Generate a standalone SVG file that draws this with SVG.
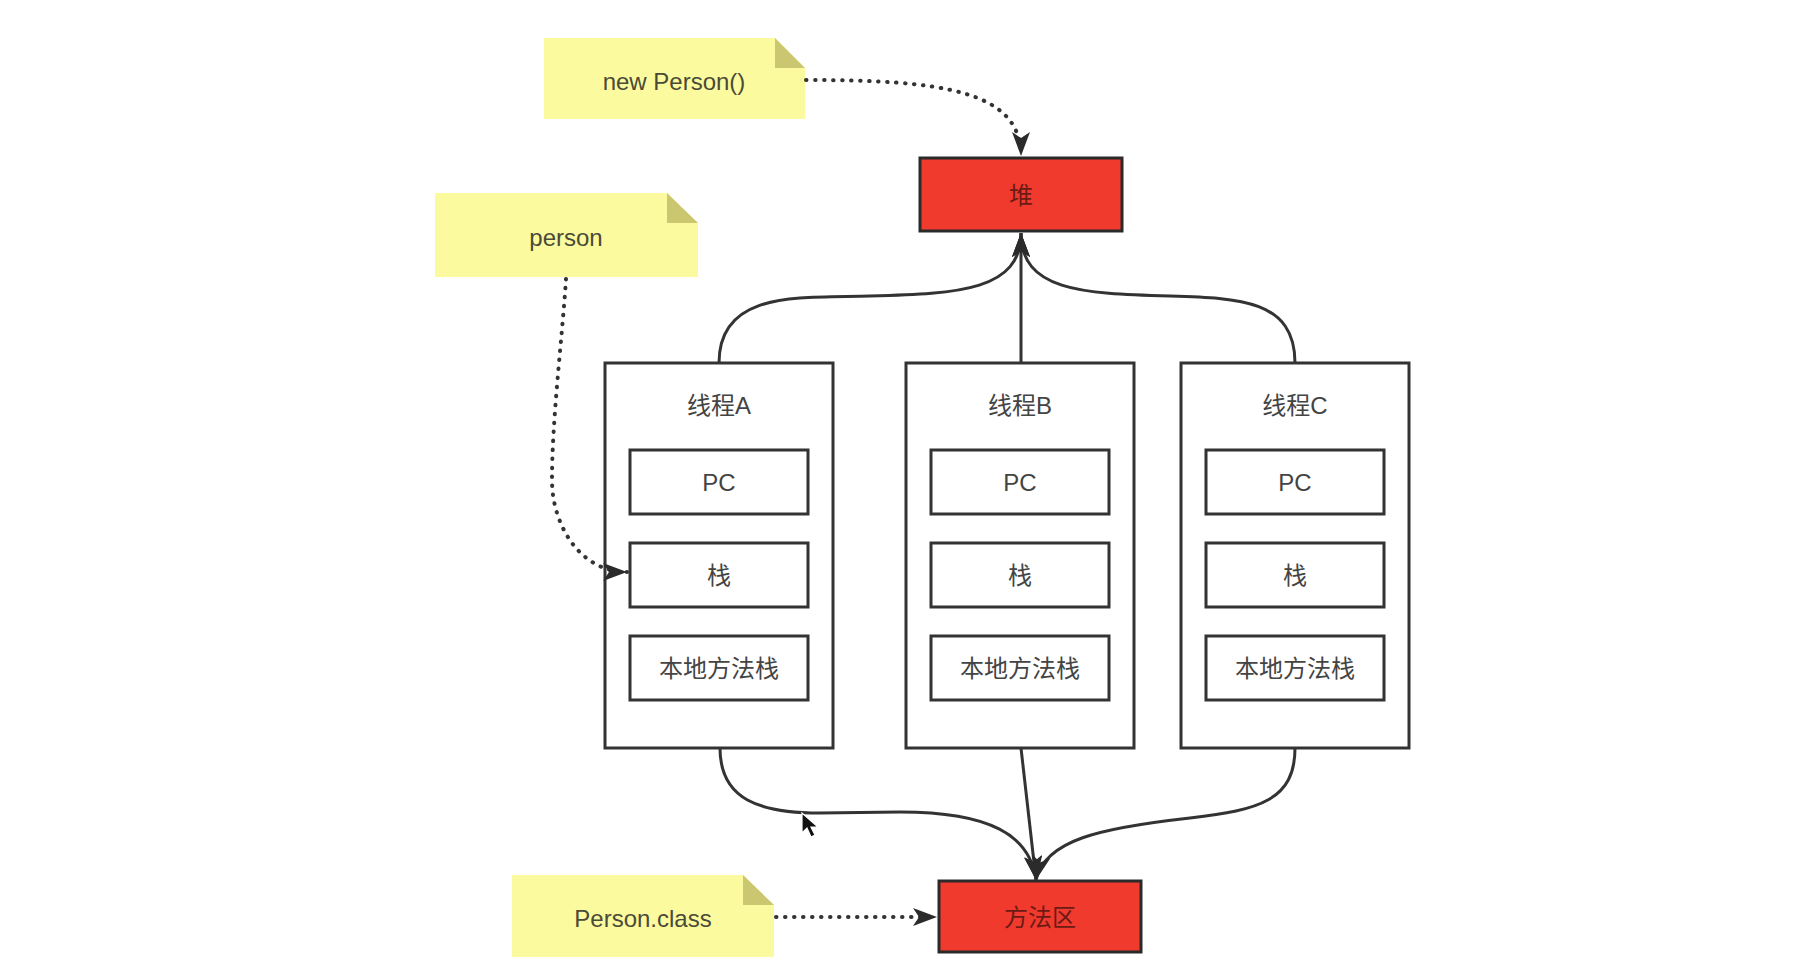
<svg xmlns="http://www.w3.org/2000/svg" width="1814" height="968" viewBox="0 0 1814 968">
  <style>
    .note { fill: #fcfa9e; }
    .fold { fill: #cbc770; }
    .note-text { font-family: "Liberation Sans", "Noto Sans CJK SC", sans-serif; font-size: 24px; fill: #4a4a38; text-anchor: middle; dominant-baseline: central; }
    .box { fill: #ffffff; stroke: #333333; stroke-width: 3; }
    .area { fill: #f03a2d; stroke: #2a2a2a; stroke-width: 3; }
    .label { font-family: "Liberation Sans", "Noto Sans CJK SC", sans-serif; font-size: 24px; fill: #444444; text-anchor: middle; dominant-baseline: central; }
    .area-label { font-family: "Liberation Sans", "Noto Sans CJK SC", sans-serif; font-size: 24px; fill: #6b1a15; text-anchor: middle; dominant-baseline: central; }
    .edge { fill: none; stroke: #333333; stroke-width: 3; }
    .dotted { fill: none; stroke: #333333; stroke-width: 4; stroke-dasharray: 0.5 8.5; stroke-linecap: round; }
  </style>
  <defs>
    <marker id="arrow" markerUnits="userSpaceOnUse" markerWidth="26" markerHeight="20" refX="24" refY="9" orient="auto">
      <path d="M0,0 L24,9 L0,18 L6,9 Z" fill="#2b2b2b"/>
    </marker>
  </defs>

  <rect width="1814" height="968" fill="#ffffff"/>

  <!-- notes -->
  <g id="note-new-person">
    <path class="note" d="M544,38 L775,38 L805,68 L805,119 L544,119 Z"/>
    <path class="fold" d="M775,38 L775,68 L805,68 Z"/>
    <text class="note-text" x="674" y="81">new Person()</text>
  </g>
  <g id="note-person">
    <path class="note" d="M435,193 L667,193 L698,223 L698,277 L435,277 Z"/>
    <path class="fold" d="M667,193 L667,223 L698,223 Z"/>
    <text class="note-text" x="566" y="237">person</text>
  </g>
  <g id="note-person-class">
    <path class="note" d="M512,875 L743,875 L774,905 L774,957 L512,957 Z"/>
    <path class="fold" d="M743,875 L743,905 L774,905 Z"/>
    <text class="note-text" x="643" y="918">Person.class</text>
  </g>

  <!-- shared areas -->
  <g id="heap">
    <rect class="area" x="920" y="158" width="202" height="73"/>
    <text class="area-label" x="1021" y="195">堆</text>
  </g>
  <g id="method-area">
    <rect class="area" x="939" y="881" width="202" height="71"/>
    <text class="area-label" x="1040" y="917">方法区</text>
  </g>

  <!-- threads -->
  <g id="thread-a">
    <rect class="box" x="605" y="363" width="228" height="385"/>
    <text class="label" x="719" y="405">线程A</text>
    <rect class="box" x="630" y="450" width="178" height="64"/>
    <text class="label" x="719" y="482">PC</text>
    <rect class="box" x="630" y="543" width="178" height="64"/>
    <text class="label" x="719" y="575">栈</text>
    <rect class="box" x="630" y="636" width="178" height="64"/>
    <text class="label" x="719" y="668">本地方法栈</text>
  </g>
  <g id="thread-b">
    <rect class="box" x="906" y="363" width="228" height="385"/>
    <text class="label" x="1020" y="405">线程B</text>
    <rect class="box" x="931" y="450" width="178" height="64"/>
    <text class="label" x="1020" y="482">PC</text>
    <rect class="box" x="931" y="543" width="178" height="64"/>
    <text class="label" x="1020" y="575">栈</text>
    <rect class="box" x="931" y="636" width="178" height="64"/>
    <text class="label" x="1020" y="668">本地方法栈</text>
  </g>
  <g id="thread-c">
    <rect class="box" x="1181" y="363" width="228" height="385"/>
    <text class="label" x="1295" y="405">线程C</text>
    <rect class="box" x="1206" y="450" width="178" height="64"/>
    <text class="label" x="1295" y="482">PC</text>
    <rect class="box" x="1206" y="543" width="178" height="64"/>
    <text class="label" x="1295" y="575">栈</text>
    <rect class="box" x="1206" y="636" width="178" height="64"/>
    <text class="label" x="1295" y="668">本地方法栈</text>
  </g>

  <!-- connectors -->
  <g id="connectors">
    <!-- note links -->
    <path class="dotted" d="M806,80 C940,80 1021,90 1021,156" marker-end="url(#arrow)"/>
    <path class="dotted" d="M566,279 C562,340 552,420 552,480 C552,525 580,572 627,572" marker-end="url(#arrow)"/>
    <path class="dotted" d="M776,917 L937,917" marker-end="url(#arrow)"/>
    <!-- threads to heap -->
    <path class="edge" d="M719,363 C719,290 800,298 870,296 C960,294 1021,290 1021,233" marker-end="url(#arrow)"/>
    <path class="edge" d="M1021,363 L1021,233" marker-end="url(#arrow)"/>
    <path class="edge" d="M1295,363 C1295,300 1240,298 1170,296 C1080,294 1021,290 1021,233" marker-end="url(#arrow)"/>
    <!-- threads to method area -->
    <path class="edge" d="M720,748 C720,800 760,813 820,813 L900,812 C990,812 1030,835 1036,880" marker-end="url(#arrow)"/>
    <path class="edge" d="M1021,748 L1036,880" marker-end="url(#arrow)"/>
    <path class="edge" d="M1295,748 C1295,800 1260,810 1190,818 C1100,828 1045,840 1036,880" marker-end="url(#arrow)"/>
  </g>

  <!-- pointer -->
  <path d="M802,813 L802,833 L807,828 L811,837 L815,835 L811,827 L818,827 Z" fill="#111111" stroke="#ffffff" stroke-width="1.2"/>
</svg>
